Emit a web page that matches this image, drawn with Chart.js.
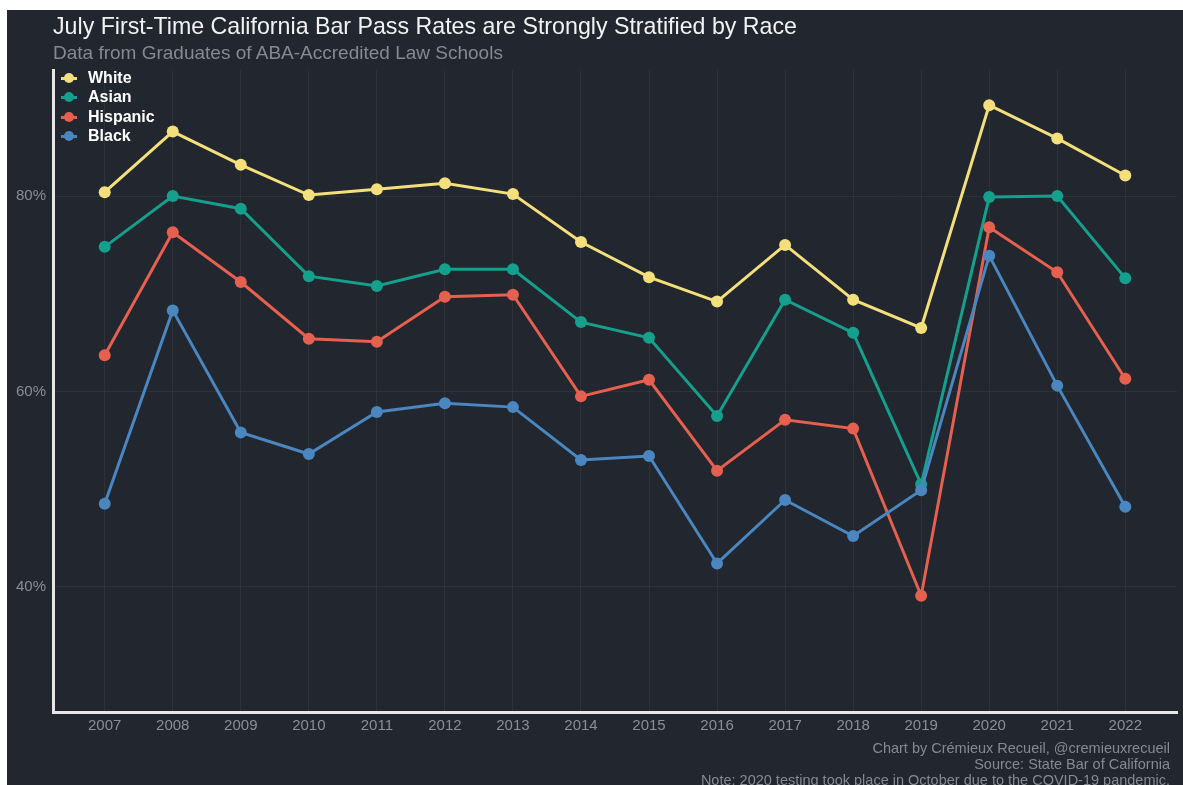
<!DOCTYPE html>
<html lang="en">
<head>
  <meta charset="UTF-8">
  <title>California Bar Pass Rates by Race</title>
  <style>
    html, body {
      margin: 0;
      padding: 0;
      background: #ffffff;
    }
    #frame {
      position: absolute;
      left: 7px;
      top: 10px;
      width: 1176px;
      height: 775px;
      background: #22262e;
      overflow: hidden;
      font-family: 'Liberation Sans', Arial, sans-serif;
    }
    #title {
      position: absolute;
      left: 46px;
      top: 3px;
      font-size: 23.2px;
      color: #f2f2f2;
      white-space: nowrap;
    }
    #subtitle {
      position: absolute;
      left: 46px;
      top: 32px;
      font-size: 19px;
      color: #858991;
      white-space: nowrap;
    }
    #legend {
      position: absolute;
      left: 54px;
      top: 58px;
    }
    .item {
      display: flex;
      align-items: center;
      height: 19.5px;
      font-size: 16px;
      font-weight: bold;
      color: #ffffff;
    }
    .key {
      position: relative;
      width: 16px;
      height: 10px;
      margin-right: 11px;
    }
    .key .ln {
      position: absolute;
      left: 0;
      top: 4px;
      width: 16px;
      height: 3px;
    }
    .key .dot {
      position: absolute;
      left: 3px;
      top: 0;
      width: 10px;
      height: 10px;
      border-radius: 50%;
    }
    #footer {
      position: absolute;
      right: 13px;
      top: 730px;
      text-align: right;
      font-size: 14.5px;
      line-height: 16px;
      color: #858991;
      white-space: nowrap;
    }
    #chart {
      position: absolute;
      left: 0;
      top: 0;
    }
  </style>
</head>
<body>
  <div id="frame">
    <canvas id="chart" width="1176" height="775"></canvas>
    <div id="title">July First-Time California Bar Pass Rates are Strongly Stratified by Race</div>
    <div id="subtitle">Data from Graduates of ABA-Accredited Law Schools</div>
    <div id="legend"></div>
    <div id="footer">
      Chart by Crémieux Recueil, @cremieuxrecueil<br>
      Source: State Bar of California<br>
      Note: 2020 testing took place in October due to the COVID-19 pandemic.
    </div>
  </div>

  <script src="https://cdn.jsdelivr.net/npm/chart.js"></script>
  <script>
    const years = [2007, 2008, 2009, 2010, 2011, 2012, 2013, 2014, 2015, 2016, 2017, 2018, 2019, 2020, 2021, 2022];
    const white    = [80.4, 86.6, 83.2, 80.1, 80.7, 81.3, 80.2, 75.3, 71.7, 69.2, 75.0, 69.4, 66.5, 89.3, 85.9, 82.1];
    const asian    = [74.8, 80.0, 78.7, 71.8, 70.8, 72.5, 72.5, 67.1, 65.5, 57.5, 69.4, 66.0, 50.5, 79.9, 80.0, 71.6];
    const hispanic = [63.7, 76.3, 71.2, 65.4, 65.1, 69.7, 69.9, 59.5, 61.2, 51.9, 57.1, 56.2, 39.1, 76.8, 72.2, 61.3];
    const black    = [48.5, 68.3, 55.8, 53.6, 57.9, 58.8, 58.4, 53.0, 53.4, 42.4, 48.9, 45.2, 49.9, 73.9, 60.6, 48.2];
    const yTicks = [40, 60, 80];

    const series = [
      { name: "White", values: white, color: "#f3df7b" },
      { name: "Asian", values: asian, color: "#14a08c" },
      { name: "Hispanic", values: hispanic, color: "#e5604f" },
      { name: "Black", values: black, color: "#4a86bf" }
    ];

    // legend (ggplot style key: short line + point)
    const legend = document.getElementById("legend");
    legend.innerHTML = series.map(s =>
      `<div class="item"><span class="key"><span class="ln" style="background:${s.color}"></span>` +
      `<span class="dot" style="background:${s.color}"></span></span>${s.name}</div>`
    ).join("");

    const gridColor = "rgba(255, 255, 255, 0.05)";
    const tickColor = "#8a8e96";

    const datasets = series.map((s, i) => ({
      label: s.name,
      data: s.values.map((v, j) => ({ x: years[j], y: v })),
      borderColor: s.color,
      backgroundColor: s.color,
      pointBackgroundColor: s.color,
      pointBorderWidth: 0,
      pointRadius: 6,
      borderWidth: 3,
      tension: 0,
      order: series.length - i
    }));

    new Chart(document.getElementById("chart"), {
      type: "line",
      data: { datasets },
      options: {
        responsive: false,
        animation: false,
        layout: {
          padding: { left: 0, right: 3, top: 60, bottom: 43 }
        },
        plugins: {
          legend: { display: false },
          tooltip: { enabled: false }
        },
        scales: {
          x: {
            type: "linear",
            min: 2006.24,
            max: 2022.76,
            afterBuildTicks: axis => { axis.ticks = years.map(v => ({ value: v })); },
            afterFit: axis => { axis.height = 30; },
            grid: { color: gridColor, drawTicks: false },
            border: { color: "#e6e6e6", width: 3 },
            ticks: {
              color: tickColor,
              font: { family: "'Liberation Sans', Arial, sans-serif", size: 15 },
              padding: 5,
              maxRotation: 0,
              callback: v => String(v)
            }
          },
          y: {
            min: 27.2,
            max: 92.9,
            afterBuildTicks: axis => { axis.ticks = yTicks.map(v => ({ value: v })); },
            afterFit: axis => { axis.width = 46; },
            grid: { color: gridColor, drawTicks: false },
            border: { color: "#e6e6e6", width: 3 },
            ticks: {
              color: tickColor,
              font: { family: "'Liberation Sans', Arial, sans-serif", size: 15 },
              padding: 7,
              callback: v => v + "%"
            }
          }
        }
      }
    });
  </script>
</body>
</html>
